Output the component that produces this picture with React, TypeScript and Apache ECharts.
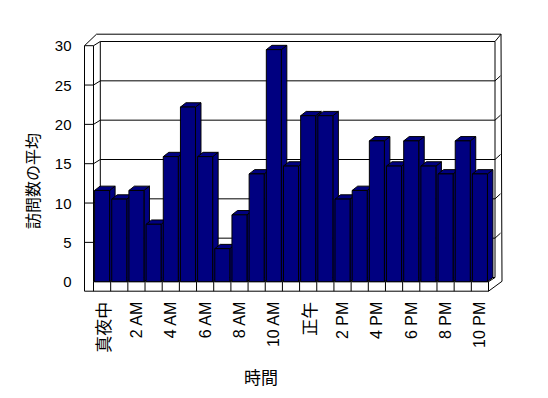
import React, { useEffect, useRef } from "react";
import * as echarts from "echarts";

const categories = [
  "真夜中", "1 AM", "2 AM", "3 AM", "4 AM", "5 AM", "6 AM", "7 AM", "8 AM", "9 AM", "10 AM", "11 AM",
  "正午", "1 PM", "2 PM", "3 PM", "4 PM", "5 PM", "6 PM", "7 PM", "8 PM", "9 PM", "10 PM",
];
const visits = [
  11.6, 10.5, 11.6, 7.3, 15.9, 22.2, 15.9, 4.2, 8.5, 13.7, 29.5, 14.7,
  21.1, 21.1, 10.5, 11.6, 17.9, 14.7, 17.9, 14.7, 13.7, 17.9, 13.7,
];
const yTicks = [0, 5, 10, 15, 20, 25, 30];
const xTitle = "時間";
const yTitle = "訪問数の平均";

const LATIN = "'Liberation Sans', Arial, sans-serif";
const CJK = "'Noto Sans CJK JP', sans-serif";
const NAVY = "#000080";

export default function App() {
  const ref = useRef<HTMLDivElement>(null);
  useEffect(() => {
    if (!ref.current) return;
    const chart = echarts.init(ref.current, undefined, { renderer: "svg" });

    const line = (x1: number, y1: number, x2: number, y2: number) => ({
      type: "line",
      shape: { x1, y1, x2, y2 },
      style: { stroke: "#000", lineWidth: 1 },
      silent: true,
    });

    const frameRender = (params: any, api: any) => {
      const cs = params.coordSys;
      const X0 = cs.x, Y0 = cs.y, X1 = cs.x + cs.width, YB = cs.y + cs.height;
      const wdx = 6.8, wdy = 4.2; // wall depth
      const T = 9, FT = 9.5; // wall & floor thickness
      const children: any[] = [];
      children.push({
        type: "polygon",
        shape: {
          points: [
            [X0 - T, Y0], [X0 + 3, Y0 - 11.5], [X1 + 12.5, Y0 - 11.5],
            [X1 + 13.5, YB - 0.4], [X1, YB + FT], [X0 - T, YB + FT],
          ],
        },
        style: { fill: "#fff", stroke: "#000", lineWidth: 1 },
        silent: true,
      });
      const P = [X0 + wdx, Y0 - wdy];
      const Q = [X1 + 6.5, Y0 - wdy];
      const R = [X1 + 6.5, YB - wdy];
      children.push(line(X0 - T, Y0, X0, Y0));
      children.push(line(X0, Y0, X0, YB));
      children.push(line(X0, Y0, P[0], P[1]));
      children.push(line(P[0], P[1], Q[0], Q[1]));
      children.push(line(Q[0], Q[1], X1 + 12.5, Y0 - 11.5));
      children.push(line(P[0], P[1], P[0], YB - wdy));
      children.push(line(Q[0], Q[1], R[0], R[1]));
      children.push(line(X0, YB, X1, YB));
      children.push(line(X1, YB, X1, YB + FT));
      children.push(line(X1, YB, R[0], R[1]));
      yTicks.forEach((t) => {
        const y = api.coord([0, t])[1];
        if (t > 0 && t < 30) {
          children.push(line(X0 - T, y, X0, y));
          children.push(line(X0, y, P[0], y - wdy));
          children.push(line(P[0], y - wdy, Q[0], y - wdy));
          children.push(line(Q[0], y - wdy, X1 + 12, y - wdy - 5));
        } else if (t === 0) {
          children.push(line(X0, y, P[0], y - wdy));
          children.push(line(P[0], y - wdy, Q[0], y - wdy));
        }
      });
      const cw = api.size([1, 0])[0];
      for (let i = 0; i <= categories.length; i++) {
        const x = X0 + i * cw;
        children.push(line(x, YB, x, YB + FT));
      }
      return { type: "group", children };
    };

    const barRender = (params: any, api: any) => {
      const idx = api.value(0);
      const v = api.value(1);
      const top = api.coord([idx, v]);
      const base = api.coord([idx, 0]);
      const cw = api.size([1, 0])[0];
      const w = cw * 0.875;
      const x = top[0] - w / 2;
      const dx = 5.5, dy = 4.3;
      const st = { fill: NAVY, stroke: "#000", lineWidth: 1 };
      return {
        type: "group",
        children: [
          {
            type: "polygon",
            shape: { points: [[x + w, top[1]], [x + w + dx, top[1] - dy], [x + w + dx, base[1] - dy], [x + w, base[1]]] },
            style: st,
          },
          {
            type: "polygon",
            shape: { points: [[x, top[1]], [x + dx, top[1] - dy], [x + w + dx, top[1] - dy], [x + w, top[1]]] },
            style: st,
          },
          {
            type: "rect",
            shape: { x, y: top[1], width: w, height: base[1] - top[1] },
            style: st,
          },
        ],
      };
    };

    chart.setOption({
      animation: false,
      backgroundColor: "#fff",
      grid: { left: 93.5, top: 45.7, width: 395, height: 236 },
      xAxis: {
        type: "category",
        data: categories,
        axisLine: { show: false },
        axisTick: { show: false },
        splitLine: { show: false },
        axisLabel: {
          interval: 1,
          rotate: 90,
          margin: 20,
          color: "#000",
          formatter: (v: string) => (/[0-9]/.test(v) ? `{l|${v}}` : `{j|${v}}`),
          rich: {
            l: { fontSize: 16, fontFamily: LATIN, color: "#000" },
            j: { fontSize: 17, fontFamily: CJK, color: "#000" },
          },
        },
      },
      yAxis: {
        type: "value",
        min: 0,
        max: 30,
        interval: 5,
        axisLine: { show: false },
        axisTick: { show: false },
        splitLine: { show: false },
        axisLabel: { margin: 22, fontSize: 15, fontFamily: LATIN, color: "#000" },
      },
      graphic: [
        {
          type: "text",
          x: 261,
          y: 376,
          style: { text: xTitle, fontSize: 17, fontFamily: CJK, fill: "#000", align: "center", verticalAlign: "middle" },
        },
        {
          type: "text",
          x: 31.5,
          y: 181,
          rotation: Math.PI / 2,
          style: { text: yTitle, fontSize: 16, fontFamily: CJK, fill: "#000", align: "center", verticalAlign: "middle" },
        },
      ],
      series: [
        {
          type: "custom",
          renderItem: frameRender,
          data: [[0, 0]],
          z: 1,
          silent: true,
        },
        {
          type: "custom",
          renderItem: barRender,
          data: visits.map((v, i) => [i, v]),
          encode: { x: 0, y: 1 },
          z: 2,
          silent: true,
        },
      ],
    });
    return () => chart.dispose();
  }, []);
  return (
    <div
      ref={ref}
      style={{ position: "fixed", left: 0, top: 0, width: 548, height: 398, background: "#fff" }}
    />
  );
}
